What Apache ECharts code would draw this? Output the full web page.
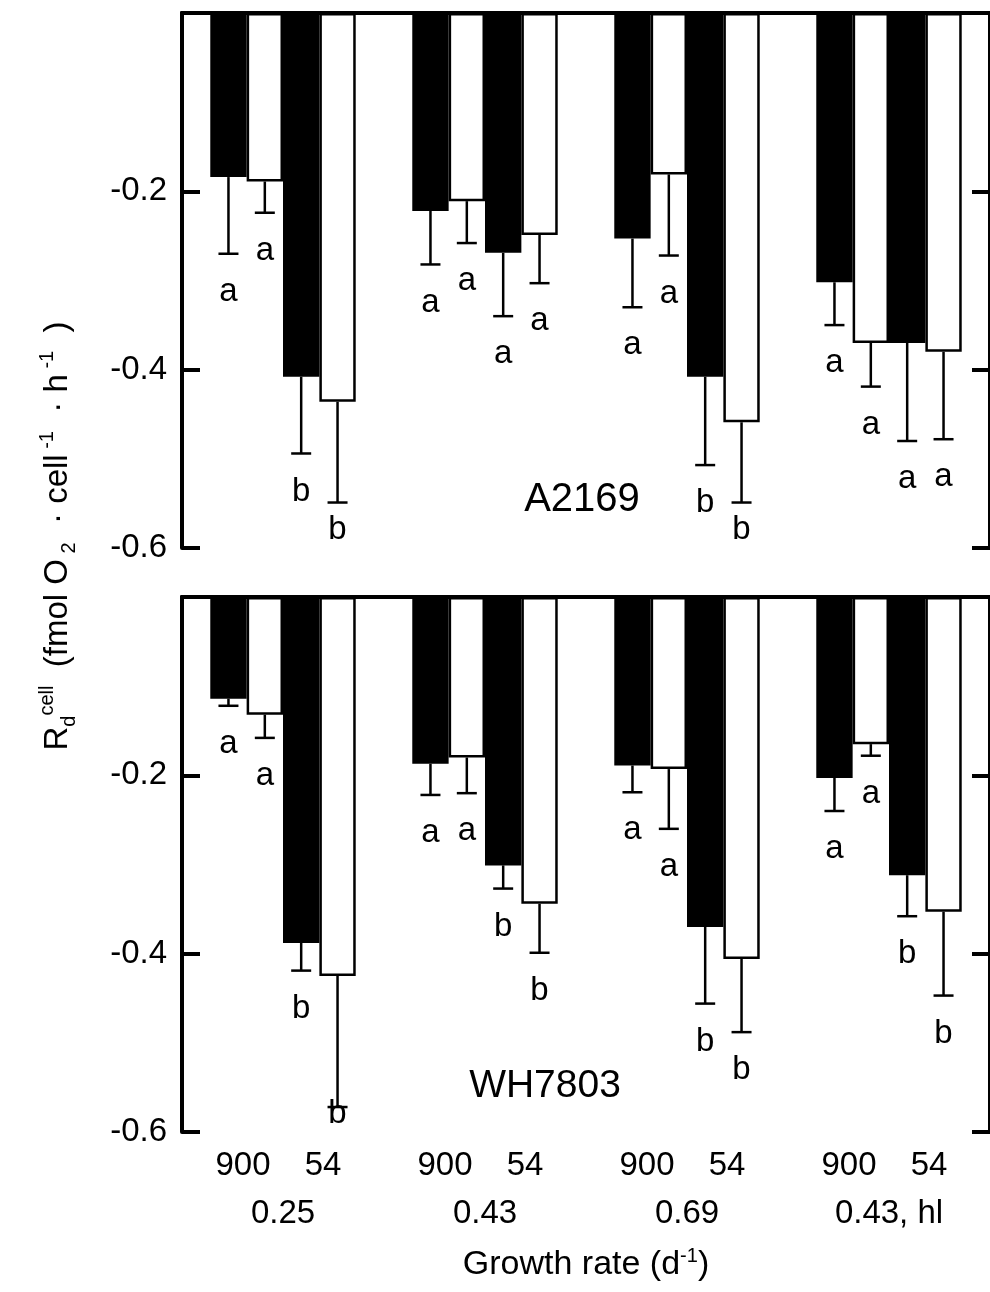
<!DOCTYPE html>
<html>
<head>
<meta charset="utf-8">
<script src="https://cdn.jsdelivr.net/npm/echarts@6/dist/echarts.min.js"></script>
<style>
  html, body { margin: 0; background: #fff; }
  #chart { width: 990px; height: 1292px; }
</style>
</head>
<body>
<div id="chart"></div>
<script>
const FONT = '"Liberation Sans", Arial, sans-serif';

const groups = ['0.25', '0.43', '0.69', '0.43, hl'];
const irradiance = ['900', '54'];

// A2169 (top panel): bar means, error (down) and letters
const a2169Black900 = [-0.184, -0.222, -0.253, -0.302];
const a2169White900 = [-0.189, -0.211, -0.181, -0.370];
const a2169Black54 = [-0.408, -0.269, -0.408, -0.370];
const a2169White54 = [-0.436, -0.249, -0.459, -0.380];
const a2169ErrBlack900 = [0.086, 0.060, 0.077, 0.048];
const a2169ErrWhite900 = [0.035, 0.047, 0.091, 0.049];
const a2169ErrBlack54 = [0.086, 0.071, 0.099, 0.110];
const a2169ErrWhite54 = [0.113, 0.054, 0.090, 0.098];
const a2169LetBlack900 = ['a', 'a', 'a', 'a'];
const a2169LetWhite900 = ['a', 'a', 'a', 'a'];
const a2169LetBlack54 = ['b', 'a', 'b', 'a'];
const a2169LetWhite54 = ['b', 'a', 'b', 'a'];

// WH7803 (bottom panel)
const wh7803Black900 = [-0.114, -0.187, -0.189, -0.203];
const wh7803White900 = [-0.132, -0.180, -0.193, -0.165];
const wh7803Black54 = [-0.388, -0.301, -0.370, -0.312];
const wh7803White54 = [-0.425, -0.344, -0.406, -0.353];
const wh7803ErrBlack900 = [0.008, 0.035, 0.030, 0.037];
const wh7803ErrWhite900 = [0.026, 0.040, 0.067, 0.013];
const wh7803ErrBlack54 = [0.031, 0.026, 0.086, 0.046];
const wh7803ErrWhite54 = [0.147, 0.055, 0.082, 0.094];
const wh7803LetBlack900 = ['a', 'a', 'a', 'a'];
const wh7803LetWhite900 = ['a', 'a', 'a', 'a'];
const wh7803LetBlack54 = ['b', 'b', 'b', 'b'];
const wh7803LetWhite54 = ['b', 'b', 'b', 'b'];

const panels = [
  {
    name: 'A2169',
    means: [a2169Black900, a2169White900, a2169Black54, a2169White54],
    errs: [a2169ErrBlack900, a2169ErrWhite900, a2169ErrBlack54, a2169ErrWhite54],
    letters: [a2169LetBlack900, a2169LetWhite900, a2169LetBlack54, a2169LetWhite54]
  },
  {
    name: 'WH7803',
    means: [wh7803Black900, wh7803White900, wh7803Black54, wh7803White54],
    errs: [wh7803ErrBlack900, wh7803ErrWhite900, wh7803ErrBlack54, wh7803ErrWhite54],
    letters: [wh7803LetBlack900, wh7803LetWhite900, wh7803LetBlack54, wh7803LetWhite54]
  }
];

const BAR_FRAC = 0.18;
const frameLine = { show: true, lineStyle: { color: '#000', width: 4 } };

const richText = (size, supSize, lh) => ({
  n: { fontSize: size, lineHeight: lh, fontFamily: FONT, color: '#000' },
  sup: { fontSize: supSize, lineHeight: supSize, verticalAlign: 'top', fontFamily: FONT, color: '#000' },
  sub: { fontSize: supSize, lineHeight: supSize, verticalAlign: 'bottom', fontFamily: FONT, color: '#000' }
});

const grids = [];
const xAxes = [];
const yAxes = [];
const series = [];

panels.forEach((p, gi) => {
  // right edge of the frame sits just past the picture edge
  grids.push({ left: 182, right: -6, top: gi === 0 ? 13 : 597, height: 535 });

  xAxes.push({
    type: 'category', gridIndex: gi, data: groups, position: 'bottom', z: 10,
    axisLine: frameLine, axisTick: { show: false },
    axisLabel: gi === 1 ? {
      margin: 10,
      formatter: v => `{a|${irradiance[0]}}{a|${irradiance[1]}}\n{c|${v}}`,
      rich: {
        a: { width: 80, align: 'center', fontSize: 33, lineHeight: 48, fontFamily: FONT, color: '#000' },
        c: { fontSize: 33, lineHeight: 48, fontFamily: FONT, color: '#000' }
      }
    } : { show: false },
    name: gi === 1 ? '{n|Growth rate (d}{sup|-1}{n|)}' : '',
    nameLocation: 'middle', nameGap: 114,
    nameTextStyle: { rich: richText(34, 20, 38) }
  });
  xAxes.push({
    type: 'category', gridIndex: gi, data: groups, position: 'top', z: 10,
    axisLine: frameLine, axisTick: { show: false }, axisLabel: { show: false }
  });

  const yBase = {
    type: 'value', gridIndex: gi, min: -0.6, max: 0, interval: 0.2, z: 10,
    axisLine: frameLine,
    axisTick: { show: true, inside: true, length: 18, lineStyle: { color: '#000', width: 4 } },
    splitLine: { show: false }
  };
  yAxes.push(Object.assign({}, yBase, {
    position: 'left',
    axisLabel: {
      margin: 15, fontSize: 33, fontFamily: FONT, color: '#000',
      formatter: v => Math.abs(v) < 1e-9 ? '' : v.toFixed(1)
    }
  }));
  yAxes.push(Object.assign({}, yBase, { position: 'right', axisLabel: { show: false } }));

  p.means.forEach((vals, k) => {
    series.push({
      type: 'bar', xAxisIndex: gi * 2, yAxisIndex: gi * 2,
      data: vals, barWidth: BAR_FRAC * 100 + '%', barGap: '0%',
      itemStyle: { color: k % 2 ? '#fff' : '#000', borderColor: '#000', borderWidth: 2.5 },
      silent: true, z: 2
    });
  });

  const rows = [];
  p.means.forEach((vals, k) => {
    vals.forEach((m, cat) => {
      rows.push({ cat, k, mean: m, err: p.errs[k][cat], letter: p.letters[k][cat] });
    });
  });

  series.push({
    type: 'custom', xAxisIndex: gi * 2, yAxisIndex: gi * 2, z: 5, silent: true, clip: false,
    data: rows.map(r => [r.cat, r.mean - r.err]),
    encode: { x: 0, y: 1 },
    renderItem: (params, api) => {
      const r = rows[params.dataIndex];
      const band = api.size([1, 0])[0];
      const cx = api.coord([r.cat, 0])[0] + (r.k - 1.5) * BAR_FRAC * band;
      const yBar = api.coord([r.cat, r.mean])[1];
      const yEnd = api.coord([r.cat, r.mean - r.err])[1];
      const yBottom = api.coord([r.cat, -0.6])[1];
      const ty = Math.min(yEnd + 38, yBottom - 18);
      const ls = { stroke: '#000', lineWidth: 2.5 };
      return {
        type: 'group',
        children: [
          { type: 'line', shape: { x1: cx, y1: yBar, x2: cx, y2: yEnd }, style: ls },
          { type: 'line', shape: { x1: cx - 10, y1: yEnd, x2: cx + 10, y2: yEnd }, style: ls },
          {
            type: 'text', x: cx, y: ty,
            style: { text: r.letter, font: '33px ' + FONT, fill: '#000', align: 'center', verticalAlign: 'middle' }
          }
        ]
      };
    }
  });
});

const chart = echarts.init(document.getElementById('chart'));
chart.setOption({
  animation: false,
  backgroundColor: '#fff',
  grid: grids,
  xAxis: xAxes,
  yAxis: yAxes,
  series: series,
  graphic: [
    {
      type: 'text', x: 582, y: 500,
      style: { text: panels[0].name, font: '40px ' + FONT, fill: '#000', align: 'center', verticalAlign: 'middle' }
    },
    {
      type: 'text', x: 545, y: 1086,
      style: { text: panels[1].name, font: '39px ' + FONT, fill: '#000', align: 'center', verticalAlign: 'middle' }
    },
    {
      type: 'text', x: 58, y: 536, rotation: Math.PI / 2,
      style: {
        text: '{n|R}{sub|d}{sup|cell}{n|  (fmol O}{sub| 2}{n|  · cell}{sup| -1}{n|  · h}{sup| -1}{n|  )}',
        rich: richText(33, 20, 42), align: 'center', verticalAlign: 'middle'
      }
    }
  ]
});
window.addEventListener('resize', () => chart.resize());
</script>
</body>
</html>
